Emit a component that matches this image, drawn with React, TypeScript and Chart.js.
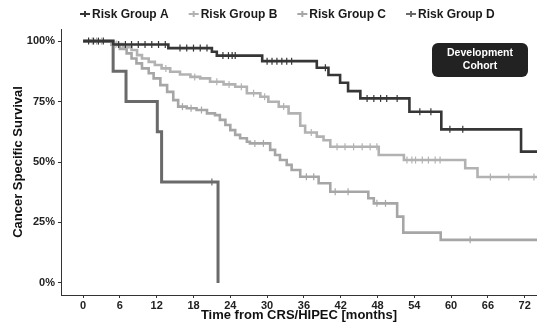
import React, { useEffect, useRef } from "react";
import { Chart, registerables } from "chart.js";

Chart.register(...registerables);

const FONT = "'Liberation Sans', Arial, Helvetica, sans-serif";

const groupNames = ["Risk Group A", "Risk Group B", "Risk Group C", "Risk Group D"];
const groupColors = ["#363636", "#b2b2b2", "#a6a6a6", "#6a6a6a"];

const xTicks = [0, 6, 12, 18, 24, 30, 36, 42, 48, 54, 60, 66, 72];
const yTicks = [0, 25, 50, 75, 100];

const timesA = [0, 4.9, 13.9, 21.0, 21.8, 29.2, 38.1, 40.0, 41.9, 43.2, 45.2, 53.2, 58.4, 71.4, 76];
const survA = [100, 98.6, 97.1, 95.6, 94.0, 91.7, 89.0, 86.0, 82.8, 79.3, 76.3, 70.8, 63.5, 54.3, 54.3];
const censorA = [0.9, 1.7, 2.5, 3.3, 5.8, 6.9, 7.9, 9.0, 10.1, 11.2, 12.3, 13.4, 15.8, 16.9, 18.0, 19.1, 20.2, 22.8, 23.7, 24.3, 24.8, 30.0, 30.8, 31.6, 32.4, 33.2, 34.0, 39.5, 46.3, 47.4, 48.5, 49.5, 51.2, 54.9, 56.7, 59.8, 61.9];

const timesB = [0, 4.6, 6.5, 7.9, 8.8, 9.6, 10.7, 11.7, 12.8, 14.2, 15.8, 17.5, 19.1, 20.7, 22.9, 24.8, 26.7, 28.9, 30.2, 31.9, 33.5, 35.4, 36.2, 38.1, 39.2, 40.3, 48.2, 52.3, 62.3, 64.3, 76];
const survB = [100, 98.8, 97.5, 96.3, 94.2, 92.8, 91.4, 90.1, 88.7, 87.3, 86.2, 85.2, 84.6, 83.2, 82.1, 81.1, 78.4, 77.0, 74.9, 72.9, 70.1, 65.0, 62.2, 60.5, 59.0, 56.3, 52.9, 50.8, 47.4, 43.8, 43.8];
const censorB = [1.5, 3.0, 5.5, 13.5, 18.2, 21.8, 23.8, 25.8, 27.8, 29.6, 32.7, 37.2, 41.4, 42.7, 44.1, 45.5, 46.8, 47.9, 52.8, 53.6, 54.2, 55.3, 56.3, 57.4, 58.2, 66.4, 69.4, 73.5];

const timesC = [0, 4.6, 6.0, 7.1, 7.9, 8.7, 9.6, 10.7, 11.5, 12.6, 13.7, 14.7, 15.5, 16.9, 18.5, 20.2, 21.5, 22.3, 23.2, 24.0, 24.8, 25.6, 26.7, 27.2, 30.5, 31.3, 32.1, 33.2, 34.0, 35.4, 38.4, 40.3, 46.5, 47.4, 51.2, 52.2, 58.3, 76];
const survC = [100, 98.5, 96.8, 94.9, 92.8, 90.8, 88.7, 86.7, 84.6, 81.8, 79.0, 75.6, 72.9, 72.2, 71.5, 70.1, 69.4, 67.4, 65.3, 63.2, 61.2, 59.8, 58.4, 57.7, 55.0, 52.9, 50.8, 48.8, 46.7, 43.9, 41.2, 37.7, 35.0, 32.9, 27.4, 20.8, 17.8, 17.8];
const censorC = [2.2, 5.2, 16.2, 17.6, 19.3, 28.0, 29.4, 36.4, 37.6, 41.1, 43.2, 47.9, 49.3, 63.1];

const timesD = [0, 4.9, 7.0, 12.1, 12.8, 22.0];
const survD = [100, 87.5, 75.0, 62.5, 41.7, 0];
const censorD = [21.0];

const allTimes = [timesA, timesB, timesC, timesD];
const allSurv = [survA, survB, survC, survD];
const allCensor = [censorA, censorB, censorC, censorD];

function survAt(times: number[], surv: number[], t: number) {
  let v = surv[0];
  for (let i = 0; i < times.length; i++) {
    if (times[i] <= t) v = surv[i];
  }
  return v;
}

const overlayPlugin = {
  id: "overlay",
  afterDraw(chart: any) {
    const ctx = chart.ctx;
    const ca = chart.chartArea;
    ctx.save();
    // legend
    ctx.font = `bold 12px ${FONT}`;
    ctx.textBaseline = "middle";
    ctx.textAlign = "left";
    let x = ca.left + 19;
    const y = 14;
    groupNames.forEach((name, i) => {
      ctx.strokeStyle = groupColors[i];
      ctx.lineWidth = 2;
      ctx.beginPath();
      ctx.moveTo(x, y);
      ctx.lineTo(x + 10, y);
      ctx.moveTo(x + 5, y - 3);
      ctx.lineTo(x + 5, y + 3);
      ctx.stroke();
      ctx.fillStyle = "#1a1a1a";
      ctx.fillText(name, x + 12, y + 0.5);
      x += 12 + ctx.measureText(name).width + 20;
    });
    // annotation
    const bx = ca.right - 105;
    const by = ca.top + 14;
    const bw = 96;
    const bh = 34;
    ctx.fillStyle = "#222222";
    ctx.beginPath();
    (ctx as any).roundRect(bx, by, bw, bh, 6);
    ctx.fill();
    ctx.fillStyle = "#ffffff";
    ctx.textAlign = "center";
    ctx.font = `bold 10.5px ${FONT}`;
    ctx.fillText("Development", bx + bw / 2, by + 10.5);
    ctx.fillText("Cohort", bx + bw / 2, by + 23.5);
    ctx.restore();
  },
};

export default function App() {
  const ref = useRef<HTMLCanvasElement | null>(null);

  useEffect(() => {
    if (!ref.current) return;
    const datasets: any[] = [];
    groupNames.forEach((name, i) => {
      datasets.push({
        label: name,
        data: allTimes[i].map((t, j) => ({ x: t, y: allSurv[i][j] })),
        stepped: "before",
        borderColor: groupColors[i],
        borderWidth: i === 3 ? 3 : 2.6,
        pointRadius: 0,
        fill: false,
        order: i,
      });
    });
    groupNames.forEach((name, i) => {
      datasets.push({
        label: name + " censored",
        data: allCensor[i].map((t) => ({ x: t, y: survAt(allTimes[i], allSurv[i], t) })),
        showLine: false,
        pointStyle: "line",
        rotation: 90,
        pointRadius: 3.5,
        pointBorderWidth: 1.2,
        borderColor: groupColors[i],
        backgroundColor: groupColors[i],
        order: i,
      });
    });

    const chart = new Chart(ref.current, {
      type: "line",
      data: { datasets },
      plugins: [overlayPlugin],
      options: {
        animation: false,
        responsive: false,
        layout: { autoPadding: false, padding: { top: 29, right: 0, left: 0, bottom: 0 } },
        plugins: { legend: { display: false }, tooltip: { enabled: false } },
        scales: {
          x: {
            type: "linear",
            min: -3.6,
            max: 74,
            afterBuildTicks: (s: any) => {
              s.ticks = xTicks.map((v) => ({ value: v }));
            },
            afterFit: (s: any) => {
              s.height = 33;
              s.paddingLeft = 0;
              s.paddingRight = 0;
            },
            grid: { drawOnChartArea: false, drawTicks: true, tickLength: 3, color: "#333" },
            border: { display: true, color: "#333", width: 1 },
            ticks: {
              color: "#222",
              font: { family: FONT, size: 11, weight: "bold" },
              padding: 1,
              maxRotation: 0,
              autoSkip: false,
            },
            title: {
              display: true,
              text: "Time from CRS/HIPEC [months]",
              color: "#111",
              font: { family: FONT, size: 13, weight: "bold" },
              padding: { top: 0, bottom: 4.5 },
            },
          },
          y: {
            type: "linear",
            min: -5,
            max: 105,
            afterBuildTicks: (s: any) => {
              s.ticks = yTicks.map((v) => ({ value: v }));
            },
            afterFit: (s: any) => {
              s.width = 61;
              s.paddingTop = 0;
              s.paddingBottom = 0;
            },
            grid: { drawOnChartArea: false, drawTicks: true, tickLength: 3, color: "#333" },
            border: { display: true, color: "#333", width: 1 },
            ticks: {
              color: "#222",
              font: { family: FONT, size: 11, weight: "bold" },
              padding: 3,
              callback: (v: any) => v + "%",
            },
            title: {
              display: true,
              text: "Cancer Specific Survival",
              color: "#111",
              font: { family: FONT, size: 13, weight: "bold" },
              padding: { top: 11, bottom: 0 },
            },
          },
        },
      },
    } as any);
    return () => chart.destroy();
  }, []);

  return (
    <div style={{ position: "absolute", left: 0, top: 0, width: 537, height: 328, background: "#fff" }}>
      <canvas ref={ref} width={537} height={328} />
    </div>
  );
}
